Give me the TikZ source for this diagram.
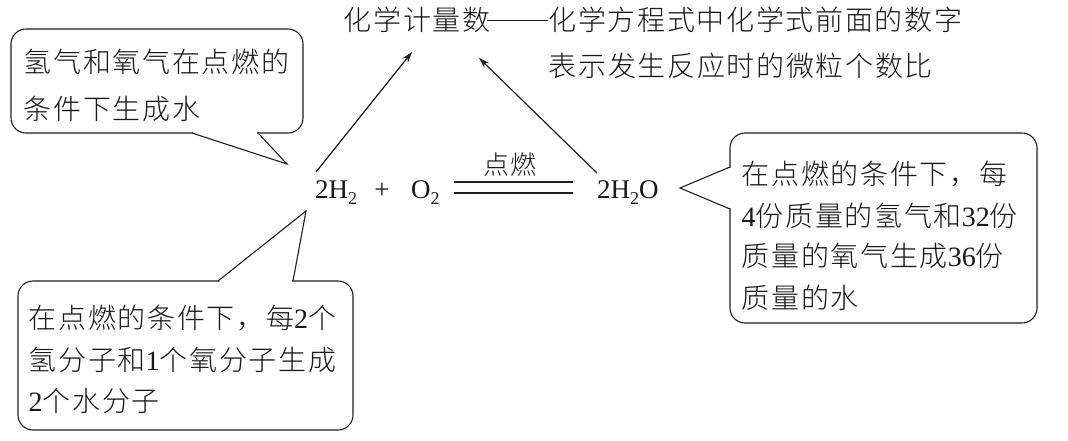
\documentclass[tikz,border=0pt]{standalone}
\usepackage{fontspec}
\setmainfont{Liberation Serif}
\newfontfamily\cjk[LetterSpace=6, UprightFont={* Light}]{Noto Sans CJK SC}
\usetikzlibrary{arrows.meta}
\newcommand\zh[1]{{\cjk #1}}
\newcommand\sbt[1]{\raisebox{-6.5pt}{\fontsize{18}{18}\selectfont #1}}
\tikzset{
  bubble/.style={draw=black!88, line width=1.1pt, rounded corners=15pt, inner sep=0pt},
  ptr/.style={draw=black!88, line width=1.1pt, line join=miter},
  erase/.style={fill=white, draw=none},
  txt/.style={inner sep=0pt, anchor=base west, text=black!90, font=\fontsize{28}{34}\selectfont},
  chem/.style={inner sep=0pt, text=black!90, font=\fontsize{27}{32}\selectfont},
  arr/.style={draw=black!88, line width=1.2pt, -{Stealth[length=11pt,width=7pt]}},
  eqline/.style={draw=black!88, line width=1.1pt}
}
\begin{document}
\begin{tikzpicture}[x=1pt,y=-1pt]
\useasboundingbox (0,0) rectangle (1068,441);
\fill[white] (0,0) rectangle (1068,441);

% top texts
\node[txt] (top1) at (343.5,31) {\zh{化学计量数}\hspace{-3pt}\rule[9.5pt]{61pt}{1.1pt}\zh{化学方程式中化学式前面的数字}};
\node[txt] (top2) at (548.5,76.5) {\zh{表示发生反应时的微粒个数比}};

% box 1
\node[bubble, minimum width=292pt, minimum height=104pt] (b1) at (157,81) {};
\path[erase] (192.6,131) rectangle (257.4,134.5);
\draw[ptr] (192,133) -- (287,164) -- (258,133);
\node[txt] (t1a) at (23.5,73) {\zh{氢气和氧气在点燃的}};
\node[txt] (t1b) at (23.5,120) {\zh{条件下生成水}};

% box 3
\node[bubble, minimum width=307pt, minimum height=190pt] (b3) at (883.5,228) {};
\path[erase] (728.5,167.6) rectangle (732,208.4);
\draw[ptr] (730,167) -- (680,188) -- (730,209);
\node[txt] (t3a) at (741.5,184.5) {\zh{在点燃的条件下，每}};
\node[txt] (t3b) at (741.5,226.5) {4\zh{份质量的氢气和}32\zh{份}};
\node[txt] (t3c) at (741.5,266.5) {\zh{质量的氧气生成}36\zh{份}};
\node[txt] (t3d) at (741.5,308.5) {\zh{质量的水}};

% box 4
\node[bubble, minimum width=335pt, minimum height=149pt] (b4) at (185.5,355.5) {};
\path[erase] (218.6,279.5) rectangle (292.4,283);
\draw[ptr] (218,281) -- (306,211) -- (293,281);
\node[txt] (t4a) at (28.5,328.5) {\zh{在点燃的条件下，每}2\zh{个}};
\node[txt] (t4b) at (28.5,370.5) {\zh{氢分子和}1\zh{个氧分子生成}};
\node[txt] (t4c) at (28.5,411.5) {2\zh{个水分子}};

% equation
\node[chem, anchor=base west] (h2) at (315,198) {2H\sbt{2}};
\node[chem, anchor=base] (plus) at (382,198) {+};
\node[chem, anchor=base west] (o2) at (411,198) {O\sbt{2}};
\node[chem, anchor=base west] (h2o) at (597,198) {2H\sbt{2}O};
\node[inner sep=0pt, text=black!90, font=\fontsize{26}{30}\selectfont] (cond) at (510,165) {\zh{点燃}};
\coordinate (eqL1) at (454,182); \coordinate (eqR1) at (573,182);
\coordinate (eqL2) at (454,193); \coordinate (eqR2) at (573,193);
\draw[eqline] (eqL1) -- (eqR1);
\draw[eqline] (eqL2) -- (eqR2);

% arrows
\coordinate (a1s) at (316,172); \coordinate (a1e) at (412,52);
\coordinate (a2s) at (597,173); \coordinate (a2e) at (479,58);
\draw[arr] (a1s) -- (a1e);
\draw[arr] (a2s) -- (a2e);
\end{tikzpicture}
\end{document}
